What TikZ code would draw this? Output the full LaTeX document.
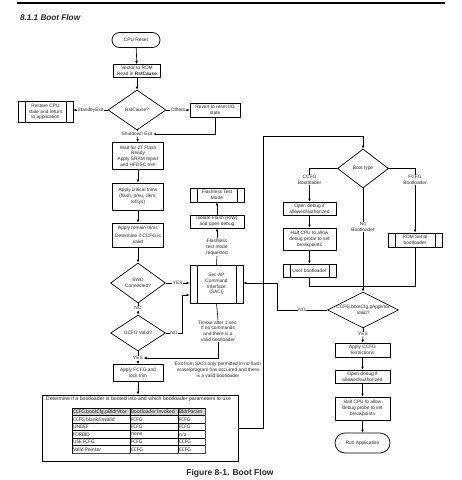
\documentclass[tikz,border=0pt]{standalone}
\usepackage{fontspec}
\setmainfont{Liberation Sans}
\newfontfamily\tabfont{Carlito}
\usetikzlibrary{shapes.geometric,arrows.meta}
\begin{document}
\begin{tikzpicture}[x=1pt,y=-1pt,
  every node/.style={font=\fontsize{4.8}{5.8}\selectfont, inner sep=0.8pt, text=black!85},
  fbox/.style={draw, line width=0.7pt, fill=white, align=center, inner sep=0.5pt},
  proc/.style={fbox, path picture={
     \draw[line width=0.6pt] ([xshift=7pt]path picture bounding box.north west) -- ([xshift=7pt]path picture bounding box.south west);
     \draw[line width=0.6pt] ([xshift=-7pt]path picture bounding box.north east) -- ([xshift=-7pt]path picture bounding box.south east);}},
  term/.style={fbox},
  dec/.style={draw, diamond, line width=0.7pt, fill=white, align=center, inner sep=0pt},
  lab/.style={fill=white, align=center, inner sep=0.6pt},
  ln/.style={line width=0.6pt},
  arr/.style={line width=0.6pt, -{Latex[length=3pt,width=2.6pt]}},
  cell/.style={font=\tabfont\fontsize{5.5}{6}\selectfont, anchor=west, inner sep=0pt}
]
\useasboundingbox (0,0) rectangle (462,480);
\draw[line width=1.2pt] (17,3) -- (445,3);
\node[anchor=west, font=\bfseries\itshape\fontsize{8.2}{9}\selectfont] (title) at (19,18) {8.1.1 Boot Flow};

% left column
\node[term, minimum width=48pt, minimum height=15pt, rounded corners=7.5pt] (reset) at (136,40) {CPU Reset};
\node[fbox, minimum width=47pt, minimum height=13pt] (vector) at (137,71) {Vector to ROM\\Read in \textbf{RstCause}};
\node[dec, minimum width=58pt, minimum height=40pt, aspect=1.45] (rst) at (137,110) {RstCause?};
\node[proc, minimum width=55pt, minimum height=21pt] (restore) at (45.5,112) {Restore CPU\\state and return\\to application};
\node[fbox, minimum width=50pt, minimum height=14pt] (revert) at (215,110) {Revert to reset I/O\\state};
\node[lab] (shut) at (137,134) {Shutdown Exit};
\node[fbox, minimum width=51pt, minimum height=27pt] (wait) at (138,156) {Wait for 2T Flash\\Ready\\Apply SRAM repair\\and HFOSC trim};
\node[fbox, minimum width=51pt, minimum height=27pt] (crit) at (138,196.5) {Apply critical trims\\(flash, pmu, clkm,\\refsys)};
\node[fbox, minimum width=51pt, minimum height=24pt] (remain) at (138,235) {Apply remain trims\\[2.5pt]Determine if CCFG is\\valid};
\node[dec, minimum width=55pt, minimum height=40pt, aspect=1.4] (swd) at (138,283) {SWD\\Connected?};
\node[lab] (no1) at (138,308) {NO};
\node[dec, minimum width=55pt, minimum height=36pt, aspect=1.5] (ccfgv) at (138,333) {CCFG Valid?};
\node[lab] (yes2) at (138,358) {YES};
\node[fbox, minimum width=50pt, minimum height=17pt] (fcfg) at (138,373) {Apply FCFG and\\lock trim};

% SACI column
\node[proc, minimum width=54pt, minimum height=14pt] (flashless) at (217,195) {Flashless Test\\Mode};
\node[fbox, minimum width=54pt, minimum height=13pt] (isolate) at (217,221.5) {Isolate Flash (R/W)\\and open debug};
\node[lab] (req) at (217,247) {Flashless\\test mode\\requested};
\node[proc, minimum width=53pt, minimum height=38pt] (saci) at (216.5,284) {Sec-AP\\Command\\Interface\\(SACI)};
\node[lab] (timeout) at (218,331) {Timout after 1 sec.\\If no commands\\and there is a\\valid bootloader};
\node[lab] (exit) at (218,369.5) {Exit from SACI only permitted in no flash\\erase/program has occurred and there\\is a valid bootloader};

% determine box and table
\node[draw, line width=0.7pt, minimum width=196pt, minimum height=66pt, inner sep=0pt] (det) at (140,428) {};
\node[font=\fontsize{5.2}{6}\selectfont] (dethead) at (138.5,399.5) {Determine if a bootloader is booted into and which bootloader parameters to use};
\fill[gray!35] (72,408) rectangle (205,415.5);
\foreach \y in {408,415.5,423,430.5,438,445.5,453} \draw[line width=0.5pt] (72,\y) -- (205,\y);
\foreach \x in {72,130,178,205} \draw[line width=0.5pt] (\x,408) -- (\x,453);
\draw[line width=0.8pt, black!70] (73,453.6) -- (205.6,453.6) -- (205.6,409);
\node[cell] (t11) at (72.8,412) {CCFG.bootCfg.pBldrVtor};
\node[cell] (t12) at (130.8,412) {Bootloader Invoked};
\node[cell] (t13) at (178.8,412) {BldrParam};
\node[cell] (t21) at (72.8,419.5) {CCFG blank/invalid};
\node[cell] (t22) at (130.8,419.5) {FCFG};
\node[cell] (t23) at (178.8,419.5) {FCFG};
\node[cell] (t31) at (72.8,427) {UNDEF};
\node[cell] (t32) at (130.8,427) {FCFG};
\node[cell] (t33) at (178.8,427) {FCFG};
\node[cell] (t41) at (72.8,434.5) {FORBID};
\node[cell] (t42) at (130.8,434.5) {none};
\node[cell] (t43) at (178.8,434.5) {n/a};
\node[cell] (t51) at (72.8,442) {USE FCFG};
\node[cell] (t52) at (130.8,442) {FCFG};
\node[cell] (t53) at (178.8,442) {CCFG};
\node[cell] (t61) at (72.8,449.5) {Valid Pointer};
\node[cell] (t62) at (130.8,449.5) {CCFG};
\node[cell] (t63) at (178.8,449.5) {CCFG};

% right column
\node[dec, minimum width=51pt, minimum height=39pt, aspect=1.3] (boot) at (363,168.5) {Boot type};
\node[lab] (ccfgbl) at (309.5,180) {CCFG\\Bootloader};
\node[lab] (fcfgbl) at (415,180) {FCFG\\Bootloader};
\node[lab] (nobl) at (363,227) {No\\Bootloader};
\node[fbox, minimum width=53pt, minimum height=13pt] (od1) at (309.5,208.5) {Open debug if\\allowed/authorized};
\node[fbox, minimum width=53pt, minimum height=22pt] (halt1) at (309.5,239) {Halt CPU to allow\\debug probe to set\\breakpoints};
\node[proc, minimum width=53pt, minimum height=13pt] (ub) at (309.5,270.5) {User bootloader};
\node[proc, minimum width=54pt, minimum height=14pt] (rom) at (415,240) {ROM Serial\\bootloader};
\node[dec, minimum width=71pt, minimum height=36pt, aspect=2, inner sep=-2pt] (app) at (363,310) {CCFG.bootCfg.pAppVtor\\Valid?};
\node[lab] (yes3) at (363,334) {YES};
\node[fbox, minimum width=55pt, minimum height=14pt] (acc) at (362.5,350) {Apply CCFG\\restrictions};
\node[fbox, minimum width=55pt, minimum height=13pt] (od2) at (362.5,376.5) {Open debug if\\allowed/authorized};
\node[fbox, minimum width=55pt, minimum height=23pt] (halt2) at (362.5,408.5) {Halt CPU to allow\\debug probe to set\\breakpoints};
\node[term, minimum width=55pt, minimum height=20pt, rounded corners=10pt] (run) at (362.5,443) {Run Application};

\node[font=\bfseries\fontsize{8.5}{10}\selectfont] (cap) at (230,473) {Figure 8-1. Boot Flow};

% connectors left
\draw[arr] (reset) -- (vector);
\draw[arr] (vector) -- (rst);
\draw[arr] (rst.west) -- node[lab]{StandbyExit} (restore.east |- rst.west);
\draw[arr] (rst.east) -- node[lab]{Others} (revert.west |- rst.east);
\draw[arr] (revert.south) |- (shut.east);
\draw[ln] (rst.south) -- (shut.north);
\draw[arr] (shut.south) -- (wait.north);
\draw[arr] (wait) -- (crit);
\draw[arr] (crit) -- (remain);
\draw[arr] (remain) -- (swd);
\draw[arr] (swd.east) -- node[lab]{YES} (saci.west |- swd.east);
\draw[ln] (swd.south) -- (no1.north);
\draw[arr] (no1.south) -- (ccfgv.north);
\coordinate (c1) at (182,295);
\draw[arr] (ccfgv.east) -- node[lab]{NO} (ccfgv.east -| c1) -- (c1) -- (saci.west |- c1);
\draw[ln] (ccfgv.south) -- (yes2.north);
\draw[arr] (yes2.south) -- (fcfg.north);
\draw[ln] (saci.south) -- (timeout.north);
\draw[arr] (timeout.south) |- (yes2.east);
\draw[arr] (fcfg.south) -- (fcfg.south |- det.north);
\draw[ln] (saci.north) -- (req.south);
\draw[arr] (req.north) -- (isolate.south);
\draw[arr] (isolate.north) -- (flashless.south);

% long loop to boot type
\coordinate (v1) at (263,428);
\coordinate (v2) at (263,136);
\draw[arr] (det.east) -- (v1) -- (v2) -| (boot.north);

% right connectors
\draw[ln] (boot.west) -| (ccfgbl.north);
\draw[arr] (ccfgbl.south) -- (od1.north);
\draw[arr] (od1) -- (halt1);
\draw[arr] (halt1) -- (ub);
\draw[ln] (boot.east) -| (fcfgbl.north);
\draw[arr] (fcfgbl.south) -- (rom.north);
\draw[ln] (boot.south) -- (nobl.north);
\draw[arr] (nobl.south) -- (app.north);
\coordinate (m1) at (363,286);
\draw[ln] (ub.south) |- (m1);
\draw[ln] (rom.south) |- (m1);
\coordinate (c2) at (277,283);
\draw[arr] (app.west) -- node[lab]{NO} (app.west -| c2) -- (c2) -- (saci.east |- c2);
\draw[ln] (app.south) -- (yes3.north);
\draw[arr] (yes3.south) -- (acc.north);
\draw[arr] (acc) -- (od2);
\draw[arr] (od2) -- (halt2);
\draw[arr] (halt2) -- (run);
\end{tikzpicture}
\end{document}
